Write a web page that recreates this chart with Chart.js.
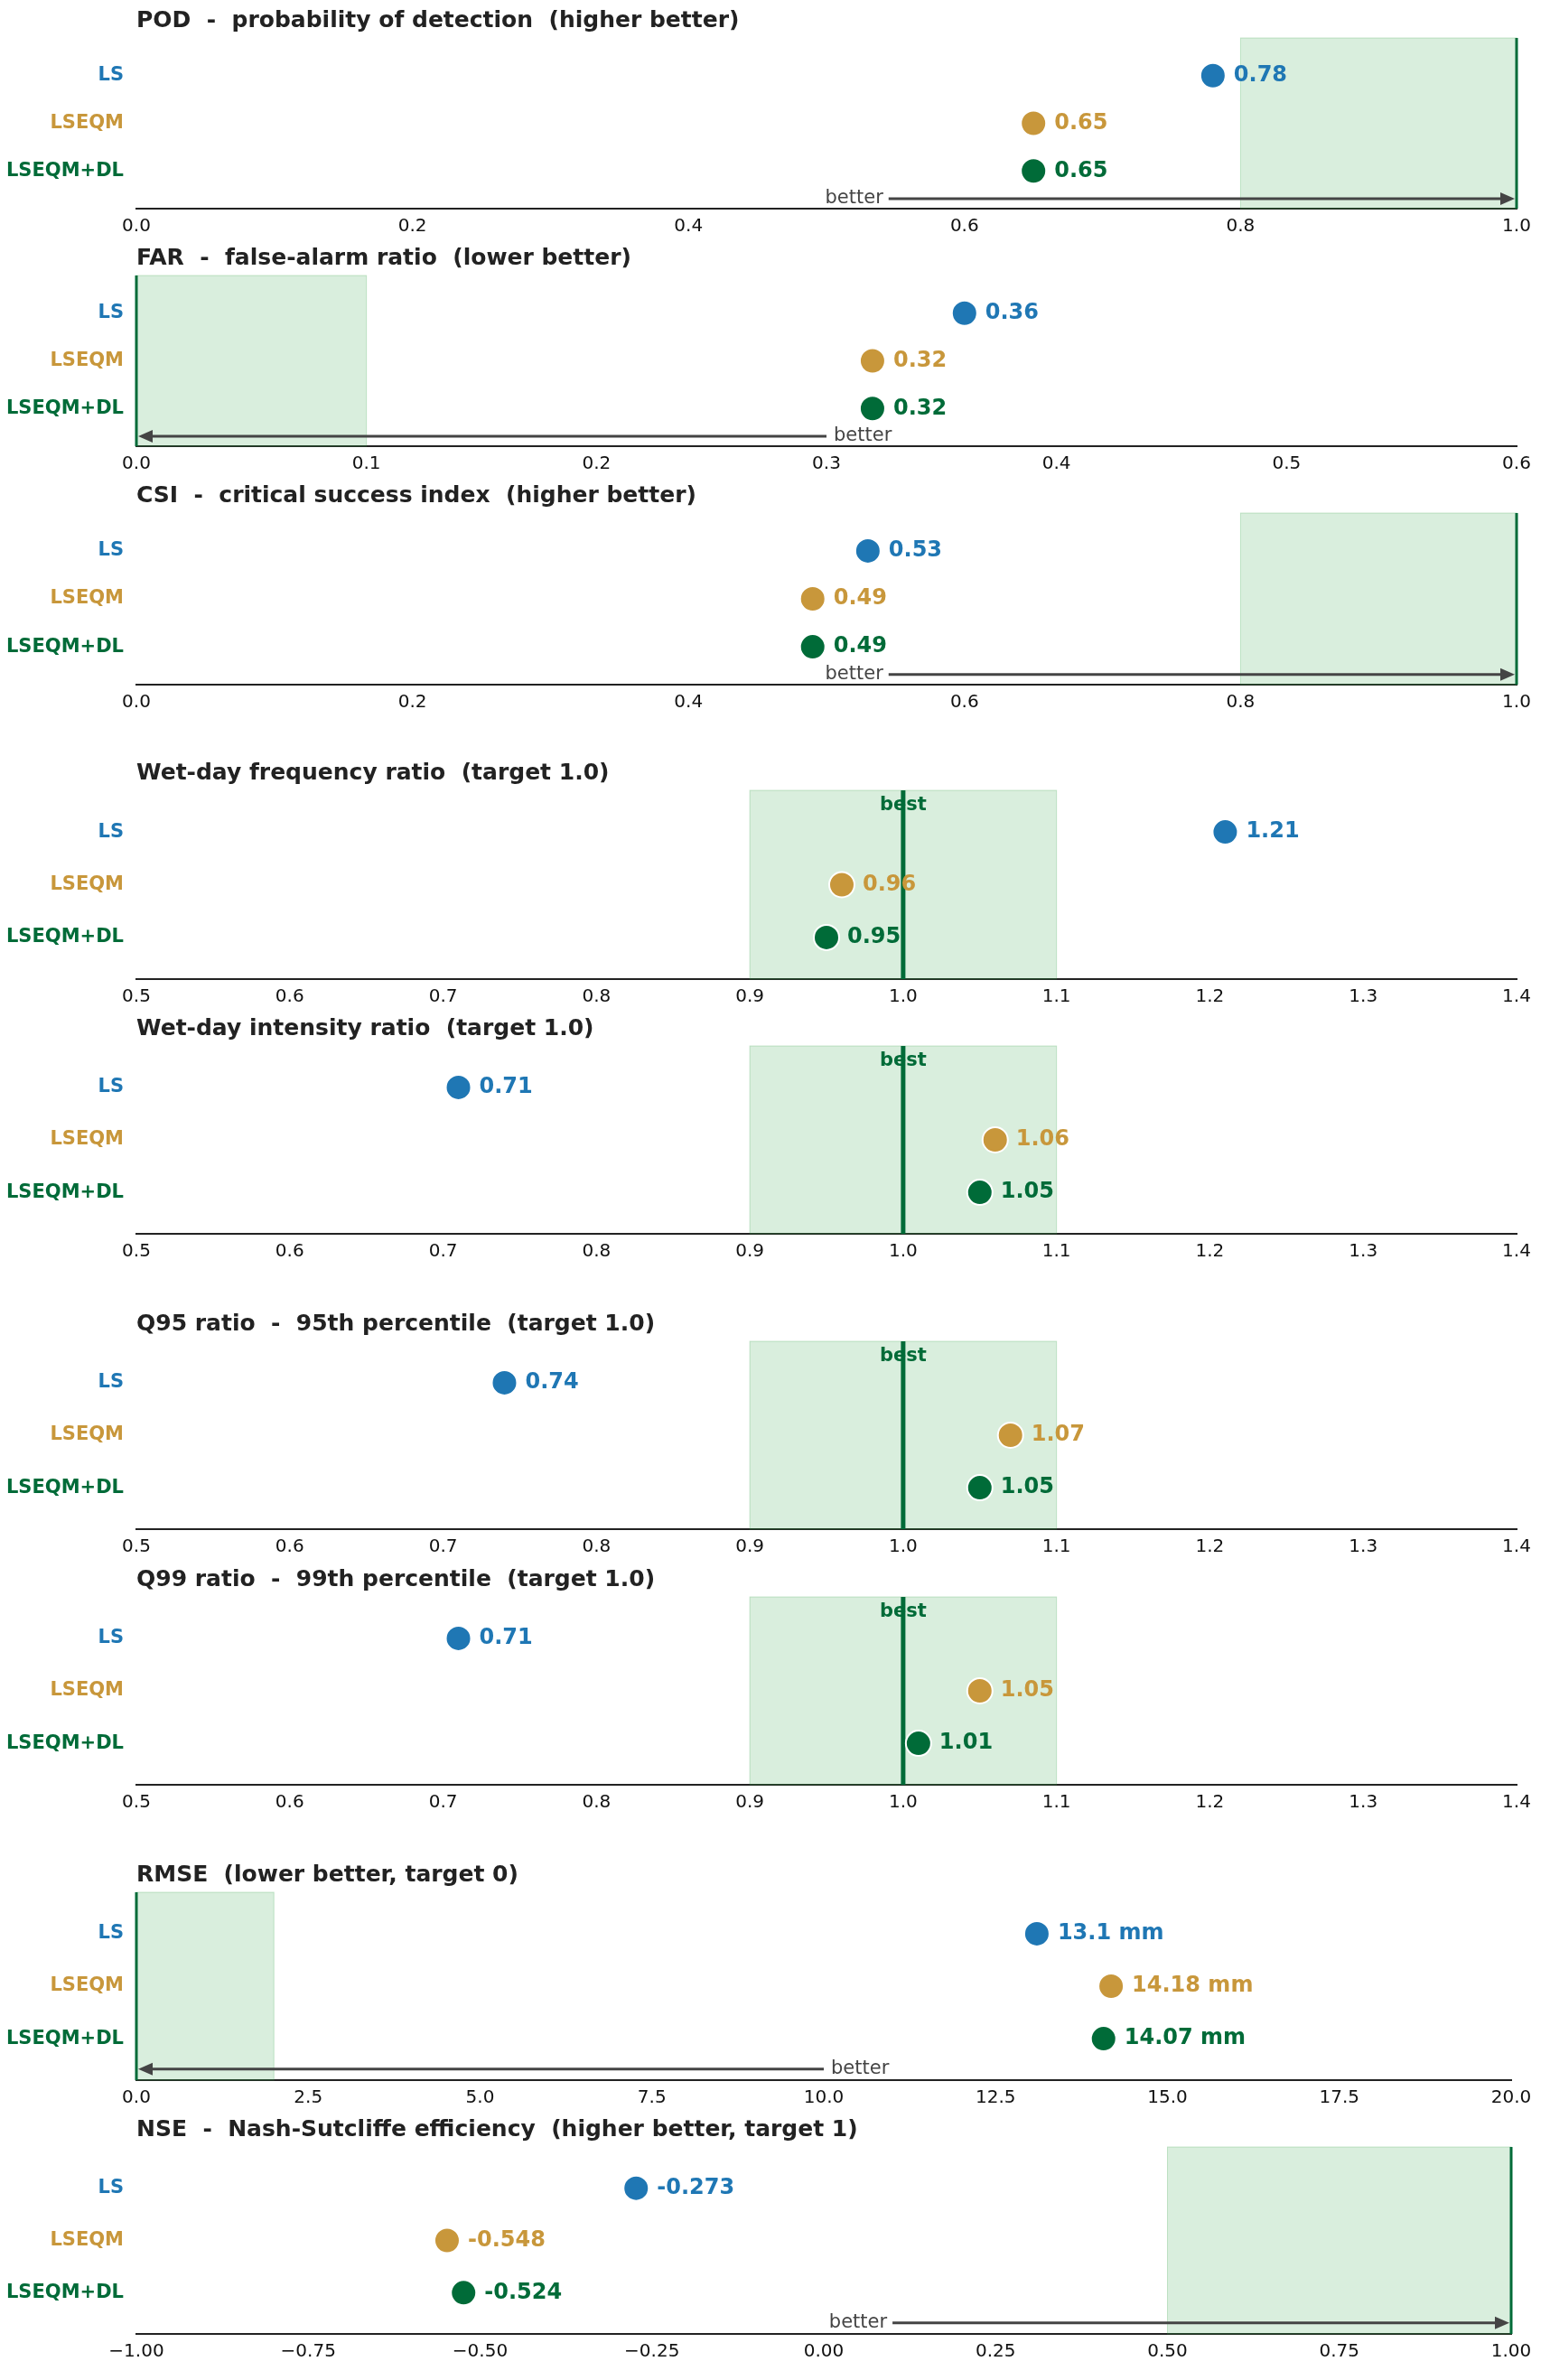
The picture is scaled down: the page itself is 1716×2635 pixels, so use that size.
<!DOCTYPE html>
<html>
<head>
<meta charset="utf-8">
<script src="https://cdn.jsdelivr.net/npm/chart.js@4"></script>
<style>
  body { margin: 0; background: #fff; width: 1716px; height: 2635px; position: relative; }
  .panel { position: absolute; left: 0; width: 1716px; }
</style>
</head>
<body>
<div id="wrap"></div>
<script>
// categories and colours
const methods = ['LS', 'LSEQM', 'LSEQM+DL'];
const methodColors = ['#1f77b4', '#c8973b', '#006b38'];

// values
const podValues = [0.78, 0.65, 0.65];
const farValues = [0.36, 0.32, 0.32];
const csiValues = [0.53, 0.49, 0.49];
const wetFreqValues = [1.21, 0.96, 0.95];
const wetIntValues = [0.71, 1.06, 1.05];
const q95Values = [0.74, 1.07, 1.05];
const q99Values = [0.71, 1.05, 1.01];
const rmseValues = [13.1, 14.18, 14.07];
const nseValues = [-0.273, -0.548, -0.524];

// x-axis ranges / tick steps
const ratioTicks = [0.5, 1.4, 0.1];

const panels = [
  { title: 'POD  -  probability of detection  (higher better)', values: podValues,
    x: [0, 1, 0.2], dec: 1, band: [0.8, 1], target: 1, arrow: [0.545, 1], top: 42, bottom: 231 },
  { title: 'FAR  -  false-alarm ratio  (lower better)', values: farValues,
    x: [0, 0.6, 0.1], dec: 1, band: [0, 0.1], target: 0, arrow: [0.3, 0], top: 305, bottom: 494 },
  { title: 'CSI  -  critical success index  (higher better)', values: csiValues,
    x: [0, 1, 0.2], dec: 1, band: [0.8, 1], target: 1, arrow: [0.545, 1], top: 568, bottom: 758 },
  { title: 'Wet-day frequency ratio  (target 1.0)', values: wetFreqValues,
    x: ratioTicks, dec: 1, band: [0.9, 1.1], target: 1, best: true, top: 875, bottom: 1084 },
  { title: 'Wet-day intensity ratio  (target 1.0)', values: wetIntValues,
    x: ratioTicks, dec: 1, band: [0.9, 1.1], target: 1, best: true, top: 1158, bottom: 1366 },
  { title: 'Q95 ratio  -  95th percentile  (target 1.0)', values: q95Values,
    x: ratioTicks, dec: 1, band: [0.9, 1.1], target: 1, best: true, top: 1485, bottom: 1693 },
  { title: 'Q99 ratio  -  99th percentile  (target 1.0)', values: q99Values,
    x: ratioTicks, dec: 1, band: [0.9, 1.1], target: 1, best: true, top: 1768, bottom: 1976 },
  { title: 'RMSE  (lower better, target 0)', values: rmseValues, unit: ' mm',
    x: [0, 20, 2.5], dec: 1, band: [0, 2], target: 0, arrow: [10, 0], top: 2095, bottom: 2303, right: 1673 },
  { title: 'NSE  -  Nash-Sutcliffe efficiency  (higher better, target 1)', values: nseValues,
    x: [-1, 1, 0.25], dec: 2, band: [0.5, 1], target: 1, arrow: [0.1, 1], top: 2377, bottom: 2584, right: 1673 }
];

const TITLE_SPACE = 42, AXIS_SPACE = 40, LEFT = 151;
const FONT = "'DejaVu Sans', sans-serif";

const decorPlugin = {
  id: 'decor',
  beforeDatasetsDraw(chart, args, o) {
    const { ctx, chartArea: a, scales: { x, y } } = chart;
    const p = o.panel;
    ctx.save();
    // green band
    const b0 = x.getPixelForValue(p.band[0]), b1 = x.getPixelForValue(p.band[1]);
    ctx.fillStyle = 'rgba(46,160,67,0.18)';
    ctx.fillRect(b0, a.top, b1 - b0, a.bottom - a.top);
    ctx.strokeStyle = 'rgba(46,160,67,0.25)';
    ctx.lineWidth = 1;
    ctx.strokeRect(b0, a.top, b1 - b0, a.bottom - a.top);
    // target line
    const tx = x.getPixelForValue(p.target);
    ctx.strokeStyle = '#006b38';
    ctx.lineWidth = p.best ? 5 : 3;
    ctx.beginPath(); ctx.moveTo(tx, a.top); ctx.lineTo(tx, a.bottom); ctx.stroke();
    if (p.best) {
      ctx.fillStyle = '#006b38';
      ctx.font = 'bold 21px ' + FONT;
      ctx.textAlign = 'center'; ctx.textBaseline = 'top';
      ctx.fillText('best', tx, a.top + 6);
    }
    // better arrow
    if (p.arrow) {
      const ay = y.getPixelForValue(2.58);
      const x0 = x.getPixelForValue(p.arrow[0]), x1 = x.getPixelForValue(p.arrow[1]);
      const dir = Math.sign(x1 - x0);
      ctx.strokeStyle = '#444'; ctx.fillStyle = '#444'; ctx.lineWidth = 3;
      ctx.beginPath(); ctx.moveTo(x0, ay); ctx.lineTo(x1 - dir * 14, ay); ctx.stroke();
      ctx.beginPath();
      ctx.moveTo(x1 - dir * 2, ay);
      ctx.lineTo(x1 - dir * 18, ay - 7);
      ctx.lineTo(x1 - dir * 18, ay + 7);
      ctx.closePath(); ctx.fill();
      ctx.font = '21px ' + FONT;
      ctx.textBaseline = 'middle';
      if (dir > 0) { ctx.textAlign = 'right'; ctx.fillText('better', x0 - 6, ay); }
      else { ctx.textAlign = 'left'; ctx.fillText('better', x0 + 8, ay); }
    }
    ctx.restore();
  },
  afterDatasetsDraw(chart, args, o) {
    const { ctx, chartArea: a } = chart;
    const p = o.panel;
    ctx.save();
    const meta = chart.getDatasetMeta(0);
    ctx.font = 'bold 24px ' + FONT;
    ctx.textAlign = 'left'; ctx.textBaseline = 'middle';
    meta.data.forEach((pt, i) => {
      ctx.fillStyle = methodColors[i];
      ctx.fillText(String(p.values[i]) + (p.unit || ''), pt.x + 23, pt.y);
    });
    // title
    ctx.fillStyle = '#222';
    ctx.font = 'bold 25px ' + FONT;
    ctx.textBaseline = 'alphabetic';
    ctx.fillText(p.title, a.left, a.top - 12);
    ctx.restore();
  }
};

const wrap = document.getElementById('wrap');
panels.forEach(p => {
  const h = (p.bottom - p.top) + TITLE_SPACE + AXIS_SPACE;
  const div = document.createElement('div');
  div.className = 'panel';
  div.style.top = (p.top - TITLE_SPACE) + 'px';
  div.style.height = h + 'px';
  const cv = document.createElement('canvas');
  div.appendChild(cv);
  wrap.appendChild(div);

  new Chart(cv, {
    type: 'scatter',
    data: {
      datasets: [{
        data: p.values.map((v, i) => ({ x: v, y: i })),
        backgroundColor: methodColors,
        borderColor: '#fff',
        borderWidth: 2,
        pointRadius: 14,
        pointHoverRadius: 14
      }]
    },
    options: {
      responsive: true,
      maintainAspectRatio: false,
      animation: false,
      layout: { padding: { top: TITLE_SPACE, right: 1716 - (p.right || 1679), left: 0, bottom: 0 } },
      plugins: { legend: { display: false }, tooltip: { enabled: false }, decor: { panel: p } },
      scales: {
        x: {
          min: p.x[0], max: p.x[1],
          afterBuildTicks: s => {
            const t = [];
            for (let v = p.x[0]; v <= p.x[1] + 1e-9; v += p.x[2]) t.push({ value: +v.toFixed(4) });
            s.ticks = t;
          },
          afterFit: s => { s.height = AXIS_SPACE; },
          grid: { display: false, drawTicks: true, tickLength: 6, tickColor: '#222' },
          border: { display: true, color: '#222', width: 2 },
          ticks: {
            color: '#111', font: { size: 20, family: FONT }, padding: 2, maxRotation: 0,
            callback: v => (v < 0 ? '\u2212' : '') + Math.abs(v).toFixed(p.dec)
          }
        },
        y: {
          min: -0.79, max: 2.79, reverse: true,
          afterBuildTicks: s => { s.ticks = [{ value: 0 }, { value: 1 }, { value: 2 }]; },
          afterFit: s => { s.width = LEFT; },
          grid: { display: false },
          border: { display: false },
          ticks: {
            padding: 6,
            font: { size: 21, weight: 'bold', family: FONT },
            color: c => methodColors[c.index],
            callback: v => methods[v]
          }
        }
      }
    },
    plugins: [decorPlugin]
  });
});
</script>
</body>
</html>
